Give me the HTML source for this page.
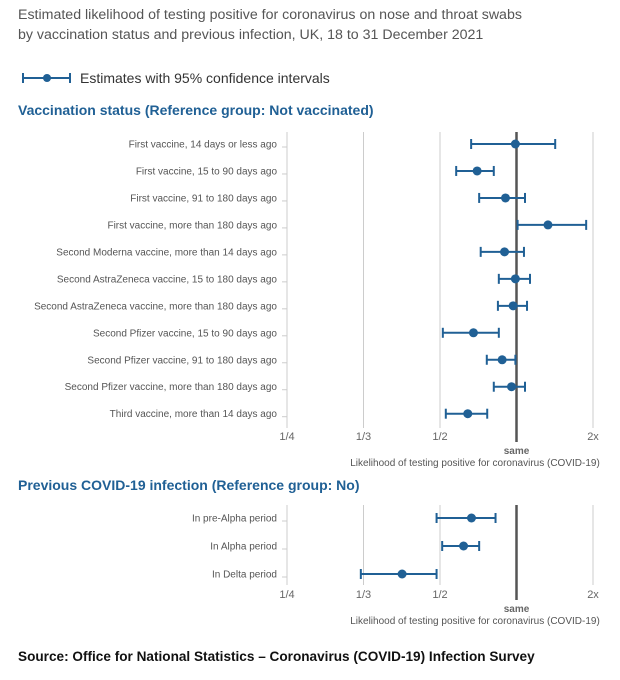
<!DOCTYPE html>
<html><head><meta charset="utf-8"><style>
body{margin:0;background:#fff;width:620px;height:680px;overflow:hidden}
svg{display:block;font-family:"Liberation Sans","DejaVu Sans",sans-serif}
</style></head><body>
<svg id="c" width="620" height="680" viewBox="0 0 620 680">
<text x="18" y="19" font-size="14.2" fill="#555">Estimated likelihood of testing positive for coronavirus on nose and throat swabs</text>
<text x="18" y="39" font-size="14.2" fill="#555">by vaccination status and previous infection, UK, 18 to 31 December 2021</text>
<g>
<line x1="23" y1="78" x2="70" y2="78" stroke="#206095" stroke-width="2"/>
<line x1="23" y1="73" x2="23" y2="83" stroke="#206095" stroke-width="2"/>
<line x1="70" y1="73" x2="70" y2="83" stroke="#206095" stroke-width="2"/>
<circle cx="47" cy="78" r="4" fill="#206095"/>
<text x="80" y="83" font-size="14" fill="#333">Estimates with 95% confidence intervals</text>
</g>
<text x="18" y="115" font-size="14" font-weight="bold" fill="#206095">Vaccination status (Reference group: Not vaccinated)</text>
<text x="18" y="490" font-size="14" font-weight="bold" fill="#206095">Previous COVID-19 infection (Reference group: No)</text>
<text x="18" y="661" font-size="13.6" font-weight="bold" fill="#111">Source: Office for National Statistics – Coronavirus (COVID-19) Infection Survey</text>
<g id="g1"></g><g id="g2"></g>
</svg>
<script>
const tickVals=[0.25,1/3,0.5,1,2];
const tickLabels=["1/4","1/3","1/2","","2x"];
const vacCats=["First vaccine, 14 days or less ago","First vaccine, 15 to 90 days ago","First vaccine, 91 to 180 days ago","First vaccine, more than 180 days ago","Second Moderna vaccine, more than 14 days ago","Second AstraZeneca vaccine, 15 to 180 days ago","Second AstraZeneca vaccine, more than 180 days ago","Second Pfizer vaccine, 15 to 90 days ago","Second Pfizer vaccine, 91 to 180 days ago","Second Pfizer vaccine, more than 180 days ago","Third vaccine, more than 14 days ago"];
const vacEst=[0.99,0.70,0.905,1.33,0.897,0.99,0.97,0.677,0.878,0.956,0.643];
const vacLo=[0.663,0.579,0.713,1.01,0.723,0.852,0.845,0.513,0.764,0.814,0.527];
const vacHi=[1.42,0.814,1.08,1.88,1.07,1.13,1.10,0.852,0.99,1.08,0.767];
const infCats=["In pre-Alpha period","In Alpha period","In Delta period"];
const infEst=[0.665,0.619,0.409];
const infLo=[0.491,0.51,0.330];
const infHi=[0.827,0.713,0.491];
const NS="http://www.w3.org/2000/svg";
const X0=287,STEP=76.5;
function xScale(v){
  for(let i=0;i<tickVals.length-1;i++){
    if(v<=tickVals[i+1]||i==tickVals.length-2){
      const f=Math.log(v/tickVals[i])/Math.log(tickVals[i+1]/tickVals[i]);
      return X0+STEP*(i+f);
    }
  }
}
function mk(p,tag,a){const e=document.createElementNS(NS,tag);for(const k in a)e.setAttribute(k,a[k]);p.appendChild(e);return e;}
function panel(g,cats,est,lo,hi,y0,rowH,gTop,gBot,sameBot,tickY,pfx){
  const yS=i=>y0+i*rowH;
  tickVals.forEach((v,i)=>{
    if(v===1)return;
    const l=mk(g,"line",{x1:xScale(v),x2:xScale(v),y1:gTop,y2:gBot,stroke:"#ccc","stroke-width":1});
    
    
    const t=mk(g,"text",{x:xScale(v),y:tickY,"font-size":11,fill:"#666","text-anchor":"middle"});
    t.textContent=tickLabels[i];
    
    
  });
  cats.forEach((c,i)=>{
    const y=yS(i);
    const t=mk(g,"text",{x:277,y:y+3.5,"font-size":10,fill:"#555","text-anchor":"end"});
    t.textContent=c;
    
    
    mk(g,"line",{x1:282,x2:287,y1:y+3,y2:y+3,stroke:"#ccc","stroke-width":1});
  });
  const s=mk(g,"line",{x1:xScale(1),x2:xScale(1),y1:gTop,y2:sameBot,stroke:"#555","stroke-width":2.5});
  
  
  const st=mk(g,"text",{x:xScale(1),y:sameBot+12,"font-size":10,"font-weight":"bold",fill:"#666","text-anchor":"middle"});
  st.textContent="same";
  
  
  const at=mk(g,"text",{x:475,y:sameBot+24,"font-size":10,fill:"#555","text-anchor":"middle"});
  at.textContent="Likelihood of testing positive for coronavirus (COVID-19)";
  
  
  cats.forEach((c,i)=>{
    const y=yS(i),a=xScale(lo[i]),b=xScale(hi[i]);
    const e=mk(g,"g",{});
    
    
    mk(e,"line",{x1:a,x2:b,y1:y,y2:y,stroke:"#206095","stroke-width":2});
    mk(e,"line",{x1:a,x2:a,y1:y-5,y2:y+5,stroke:"#206095","stroke-width":2});
    mk(e,"line",{x1:b,x2:b,y1:y-5,y2:y+5,stroke:"#206095","stroke-width":2});
    const p=mk(g,"circle",{cx:xScale(est[i]),cy:y,r:4.5,fill:"#206095"});
    
    
  });
}
panel(document.getElementById("g1"),vacCats,vacEst,vacLo,vacHi,144,26.97,132,428,442,440,"v");
panel(document.getElementById("g2"),infCats,infEst,infLo,infHi,518,28,505,585,600,598,"i");
</script>
</body></html>
